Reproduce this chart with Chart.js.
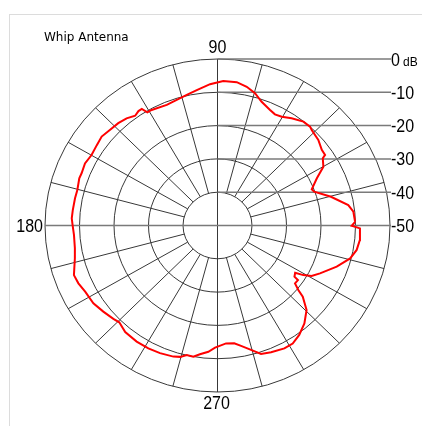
<!DOCTYPE html>
<html>
<head>
<meta charset="utf-8">
<script src="https://cdn.jsdelivr.net/npm/chart.js@4"></script>
<style>
  html, body { margin: 0; padding: 0; background: #fff; }
  #frame { position: absolute; left: 9px; top: 14px; width: 413px; height: 412px;
           border-left: 1px solid #dcdcdc; border-top: 1px solid #dcdcdc; box-sizing: border-box; }
  #wrap { position: absolute; left: 0; top: 0; width: 422px; height: 426px; }
</style>
</head>
<body>
<div id="frame"></div>
<div id="wrap"><canvas id="c" width="422" height="426"></canvas></div>
<script>
// Radiation pattern of the whip antenna: azimuth (deg, CCW from 0) and relative gain (dB)
const ANGLES = [
  1.6, 6.0, 9.2, 14.7, 19.9, 21.7, 26.2, 29.9, 33.5, 34.2, 36.9, 41.3, 46.4, 47.9,
  51.4, 56.3, 60.3, 63.5, 66.3, 71.0, 74.7, 78.5, 82.6, 87.8, 92.9, 98.4, 102.8,
  112.1, 118.8, 120.9, 122.1, 123.7, 125.9, 129.3, 133.1, 137.4, 141.5, 145.4,
  149.9, 154.1, 158.3, 160.5, 165.3, 168.8, 173.7, 177.1, 179.8, 183.9, 189.4,
  193.4, 199.7, 203.3, 207.4, 213.0, 218.0, 222.9, 225.6, 230.1, 236.1, 241.5,
  246.5, 252.0, 254.7, 257.1, 259.9, 262.5, 266.0, 268.9, 274.0, 277.8, 280.7,
  284.6, 288.1, 292.2, 297.7, 301.6, 305.8, 310.6, 315.5, 319.1, 320.4, 322.3,
  324.9, 325.4, 327.8, 329.1, 330.9, 334.2, 340.3, 345.6, 349.7, 354.0, 358.8, 359.9
];
const GAINS = [
  -10.1, -10.4, -11.6, -16.0, -20.2, -20.6, -17.9, -14.6, -13.4, -12.3, -12.2, -11.1, -10.4, -10.0,
  -10.1, -11.3, -12.4, -12.7, -12.1, -10.7, -8.8, -7.5, -6.6, -6.6, -7.5, -8.9, -9.8,
  -10.9, -10.4, -10.4, -8.7, -8.7, -9.3, -8.4, -7.9, -7.6, -7.1, -7.5,
  -7.8, -7.3, -7.6, -7.5, -8.0, -7.9, -7.8, -7.7, -8.0, -8.3, -8.1,
  -7.5, -5.8, -6.1, -6.8, -7.1, -8.0, -8.8, -9.3, -8.3, -8.0, -8.0,
  -8.2, -8.6, -9.1, -10.1, -10.0, -11.0, -12.0, -13.3, -14.5, -14.3, -13.2,
  -11.4, -9.4, -8.9, -8.3, -8.4, -9.5, -11.3, -13.8, -17.3, -19.6, -21.6,
  -21.5, -22.9, -23.4, -21.0, -18.8, -17.0, -13.3, -10.3, -9.0, -8.5, -8.7, -11.1
];

// Radial scale: centre = -50 dB, outer ring = 0 dB
const MIN_DB = -50;
const MAX_DB = 0;
const RING_DB = [-40, -30, -20, -10, 0];
const SCALE_DB = [0, -10, -20, -30, -40, -50];
const SCALE_TEXT = ['0', '-10', '-20', '-30', '-40', '-50'];
const SPOKE_STEP = 15;
const ANGLE_TICKS = [90, 180, 270];
const ANGLE_TEXT = ['90', '180', '270'];
const TITLE = 'Whip Antenna';

const rad = d => d * Math.PI / 180;
const points = ANGLES.map((a, i) => {
  const r = GAINS[i] - MIN_DB;
  return { x: r * Math.cos(rad(a)), y: r * Math.sin(rad(a)) };
});
points.push(points[0]);

function squeezedText(ctx, text, x, y, align) {
  ctx.save();
  ctx.translate(x, y);
  ctx.scale(0.89, 1);
  ctx.textAlign = align;
  ctx.fillText(text, 0, 0);
  ctx.restore();
}

// pixel position of a polar point (angle in deg, gain in dB) through the chart's scales
function polarPixel(chart, angle, db) {
  const r = db - MIN_DB;
  return {
    x: chart.scales.x.getPixelForValue(r * Math.cos(rad(angle))),
    y: chart.scales.y.getPixelForValue(r * Math.sin(rad(angle)))
  };
}

const polarGrid = {
  id: 'polarGrid',
  beforeDatasetsDraw(chart) {
    const ctx = chart.ctx;
    const xs = chart.scales.x, ys = chart.scales.y;
    const cx = xs.getPixelForValue(0), cy = ys.getPixelForValue(0);
    const rx = db => xs.getPixelForValue(db - MIN_DB) - cx;
    const ry = db => cy - ys.getPixelForValue(db - MIN_DB);
    const lineEnd = xs.getPixelForValue(MAX_DB - MIN_DB) + 1;

    ctx.save();
    // concentric rings
    ctx.strokeStyle = '#383838';
    ctx.lineWidth = 1;
    RING_DB.forEach(db => {
      ctx.beginPath();
      ctx.ellipse(cx, cy, rx(db), ry(db), 0, 0, Math.PI * 2);
      ctx.stroke();
    });
    // spokes from the inner ring outward
    for (let a = 0; a < 360; a += SPOKE_STEP) {
      if (a % 90 === 0) continue;
      const p0 = polarPixel(chart, a, RING_DB[0]);
      const p1 = polarPixel(chart, a, MAX_DB);
      ctx.beginPath();
      ctx.moveTo(p0.x, p0.y);
      ctx.lineTo(p1.x, p1.y);
      ctx.stroke();
    }
    // vertical axis through the centre
    const top = polarPixel(chart, 90, MAX_DB), bottom = polarPixel(chart, 270, MAX_DB);
    ctx.beginPath();
    ctx.moveTo(cx, top.y);
    ctx.lineTo(cx, bottom.y);
    ctx.stroke();

    // horizontal leader lines to the dB scale
    ctx.strokeStyle = '#7a7a7a';
    ctx.lineWidth = 1.5;
    SCALE_DB.forEach(db => {
      const y = cy - ry(db);
      ctx.beginPath();
      ctx.moveTo(db === MIN_DB ? cx - rx(MAX_DB) : cx, y);
      ctx.lineTo(lineEnd, y);
      ctx.stroke();
    });
    ctx.restore();
  },
  afterDraw(chart) {
    const ctx = chart.ctx;
    const xs = chart.scales.x, ys = chart.scales.y;
    const cx = xs.getPixelForValue(0), cy = ys.getPixelForValue(0);
    const ry = db => cy - ys.getPixelForValue(db - MIN_DB);
    const left = xs.getPixelForValue(MIN_DB - MAX_DB);
    const labelX = xs.getPixelForValue(MAX_DB - MIN_DB) + 1;

    ctx.save();
    ctx.fillStyle = '#000';
    ctx.textBaseline = 'alphabetic';
    ctx.font = '18px "Liberation Sans", Arial, sans-serif';
    SCALE_DB.forEach((db, i) => {
      const y = cy - ry(db);
      squeezedText(ctx, SCALE_TEXT[i], labelX, y + 6.5, 'left');
    });
    ctx.font = '12px "Liberation Sans", Arial, sans-serif';
    ctx.textAlign = 'left';
    ctx.fillText('dB', labelX + 12, cy - ry(MAX_DB) + 6.5);

    ctx.font = '18px "Liberation Sans", Arial, sans-serif';
    ANGLE_TICKS.forEach((a, i) => {
      const p = polarPixel(chart, a, MAX_DB);
      if (a === 90) squeezedText(ctx, ANGLE_TEXT[i], cx, p.y - 6, 'center');
      else if (a === 270) squeezedText(ctx, ANGLE_TEXT[i], cx - 1, p.y + 17, 'center');
      else squeezedText(ctx, ANGLE_TEXT[i], left - 2, cy + 6.5, 'right');
    });

    ctx.font = '12px "DejaVu Sans", sans-serif';
    ctx.textAlign = 'left';
    ctx.fillText(TITLE, 44, 41);
    ctx.restore();
  }
};

new Chart(document.getElementById('c'), {
  type: 'scatter',
  data: {
    datasets: [{
      data: points,
      showLine: true,
      borderColor: '#ff0000',
      borderWidth: 2,
      pointRadius: 0,
      tension: 0,
      fill: false
    }]
  },
  options: {
    responsive: false,
    animation: false,
    layout: { padding: { left: 45, right: 32, top: 59, bottom: 34 } },
    plugins: { legend: { display: false }, tooltip: { enabled: false }, title: { display: false } },
    scales: {
      x: { type: 'linear', min: MIN_DB - MAX_DB, max: MAX_DB - MIN_DB, display: false },
      y: { type: 'linear', min: MIN_DB - MAX_DB, max: MAX_DB - MIN_DB, display: false }
    }
  },
  plugins: [polarGrid]
});
</script>
</body>
</html>
